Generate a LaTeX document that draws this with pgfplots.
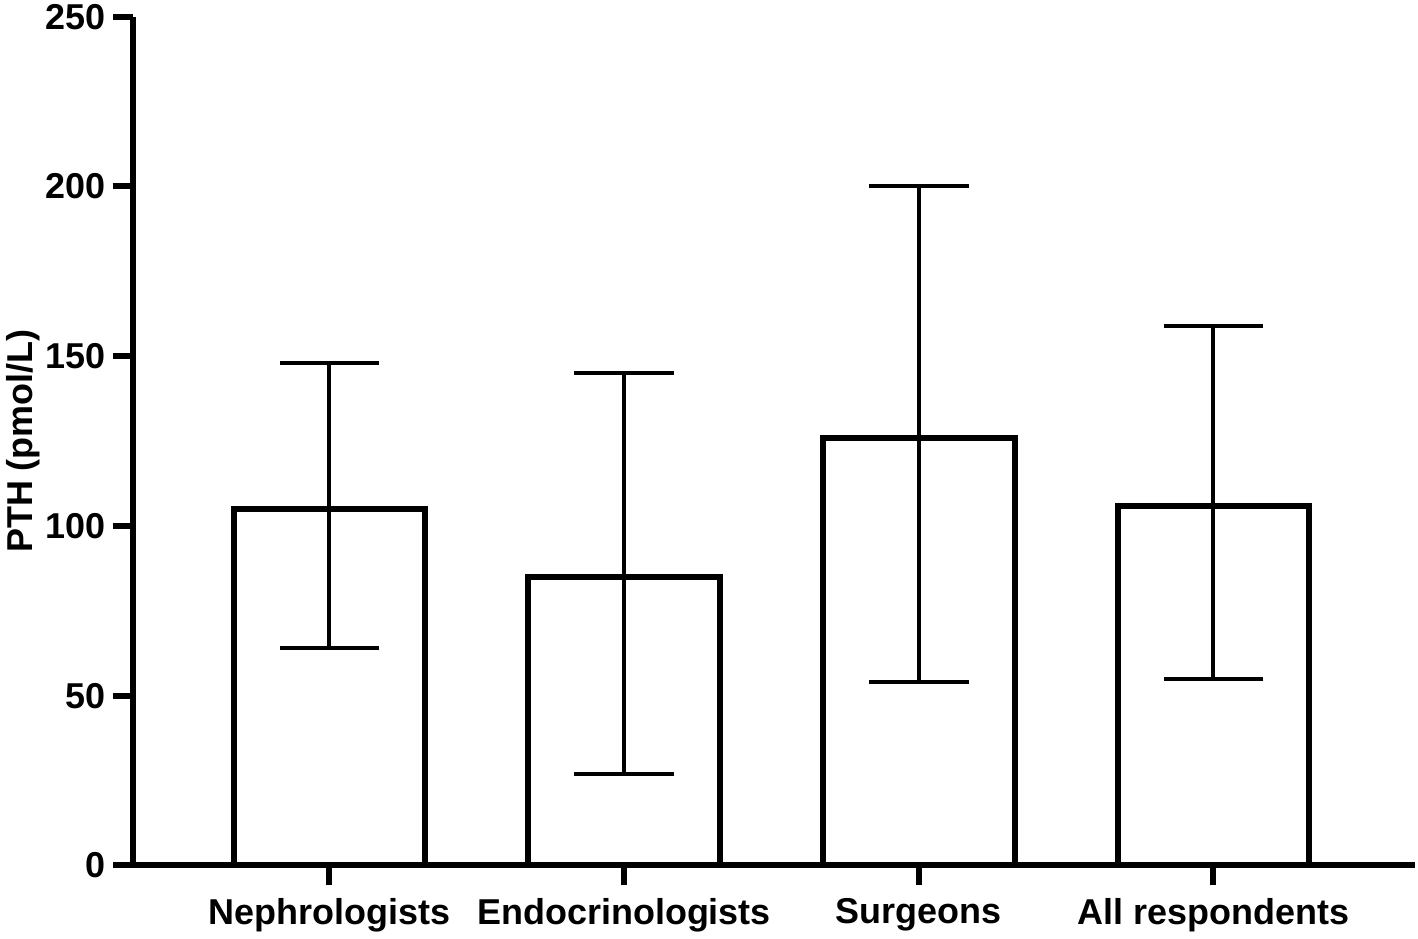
\documentclass[border=0pt]{standalone}
\usepackage{fontspec}
\setmainfont{Liberation Sans}
\usepackage{pgfplots}
\pgfplotsset{compat=1.18}
\begin{document}
\begin{tikzpicture}
\begin{axis}[
  scale only axis,
  width=642pt, height=425pt,
  xmin=-0.667, xmax=3.684,
  ymin=0, ymax=250,
  ytick={0,50,100,150,200,250},
  xtick={0,1,2,3},
  xticklabels={Nephrologists,Endocrinologists,Surgeons,All respondents},
  axis x line=bottom, axis y line=left,
  axis line style={-, line width=3pt},
  tick align=outside,
  major tick length=10pt,
  tick style={line width=3pt, black},
  /pgf/number format/assume math mode=true,
  ticklabel style={font=\fontsize{18}{20}\selectfont\bfseries},
  yticklabel style={inner ysep=2pt},
  xticklabel style={yshift=-3pt},
  ylabel={PTH (pmol/L)},
  ylabel style={font=\fontsize{18}{20}\selectfont\bfseries, yshift=-4pt},
  clip=false,
]
\addplot[ybar, bar width=96pt, bar shift=0pt, fill=white, draw=black, line width=3pt,
  error bars/.cd, y dir=both, y explicit,
  error bar style={line width=2pt, black},
  error mark options={rotate=90, mark size=25pt, line width=2pt, black}]
  coordinates {
    (0,105) += (0,43) -= (0,41)
    (1,85) += (0,60) -= (0,58)
    (2,126) += (0,74) -= (0,72)
    (3,106) += (0,53) -= (0,51)
  };
\end{axis}
\end{tikzpicture}
\end{document}
